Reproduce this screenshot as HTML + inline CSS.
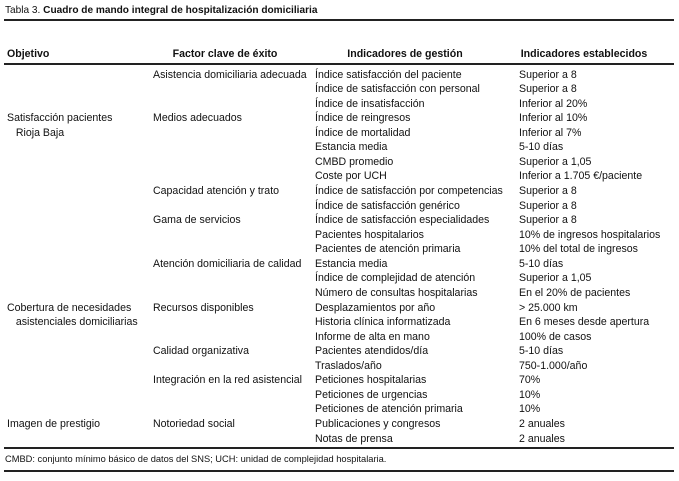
<!DOCTYPE html>
<html><head><meta charset="utf-8"><style>
body{margin:0;width:679px;height:481px;background:#fff;position:relative;overflow:hidden;font-family:"Liberation Sans",sans-serif;color:#111;}
.t{position:absolute;font-size:10.6px;line-height:14px;white-space:nowrap;}
.h{font-weight:bold;}
.l{position:absolute;left:4px;width:670px;height:1.5px;background:#222;}
</style></head><body>
<div class="t" style="left:5px;top:4px;font-size:10.1px"><span>Tabla 3. </span><b>Cuadro de mando integral de hospitalización domiciliaria</b></div>
<div class="l" style="top:19px"></div>
<div class="t h" style="left:7px;top:47px">Objetivo</div>
<div class="t h" style="left:150px;width:150px;text-align:center;top:47px">Factor clave de éxito</div>
<div class="t h" style="left:315px;width:180px;text-align:center;top:47px">Indicadores de gestión</div>
<div class="t h" style="left:500px;width:168px;text-align:center;top:47px">Indicadores establecidos</div>
<div class="l" style="top:63px"></div>
<div id="rows"></div>
<div class="l" style="top:447px"></div>
<div class="t" style="left:5px;top:452px;font-size:9.3px">CMBD: conjunto mínimo básico de datos del SNS; UCH: unidad de complejidad hospitalaria.</div>
<div class="l" style="top:470px"></div>
<script>
var R=[
["","Asistencia domiciliaria adecuada","Índice satisfacción del paciente","Superior a 8"],
["","","Índice de satisfacción con personal","Superior a 8"],
["","","Índice de insatisfacción","Inferior al 20%"],
["Satisfacción pacientes","Medios adecuados","Índice de reingresos","Inferior al 10%"],
["&nbsp;&nbsp;&nbsp;Rioja Baja","","Índice de mortalidad","Inferior al 7%"],
["","","Estancia media","5-10 días"],
["","","CMBD promedio","Superior a 1,05"],
["","","Coste por UCH","Inferior a 1.705 €/paciente"],
["","Capacidad atención y trato","Índice de satisfacción por competencias","Superior a 8"],
["","","Índice de satisfacción genérico","Superior a 8"],
["","Gama de servicios","Índice de satisfacción especialidades","Superior a 8"],
["","","Pacientes hospitalarios","10% de ingresos hospitalarios"],
["","","Pacientes de atención primaria","10% del total de ingresos"],
["","Atención domiciliaria de calidad","Estancia media","5-10 días"],
["","","Índice de complejidad de atención","Superior a 1,05"],
["","","Número de consultas hospitalarias","En el 20% de pacientes"],
["Cobertura de necesidades","Recursos disponibles","Desplazamientos por año","&gt; 25.000 km"],
["&nbsp;&nbsp;&nbsp;asistenciales domiciliarias","","Historia clínica informatizada","En 6 meses desde apertura"],
["","","Informe de alta en mano","100% de casos"],
["","Calidad organizativa","Pacientes atendidos/día","5-10 días"],
["","","Traslados/año","750-1.000/año"],
["","Integración en la red asistencial","Peticiones hospitalarias","70%"],
["","","Peticiones de urgencias","10%"],
["","","Peticiones de atención primaria","10%"],
["Imagen de prestigio","Notoriedad social","Publicaciones y congresos","2 anuales"],
["","","Notas de prensa","2 anuales"]];
var X=[7,153,315,519],h="";
R.forEach(function(r,i){var y=67.5+i*14.56;r.forEach(function(c,j){if(c)h+='<div class="t" style="left:'+X[j]+'px;top:'+y.toFixed(1)+'px">'+c+'</div>';});});
document.getElementById("rows").innerHTML=h;
</script>
</body></html>
